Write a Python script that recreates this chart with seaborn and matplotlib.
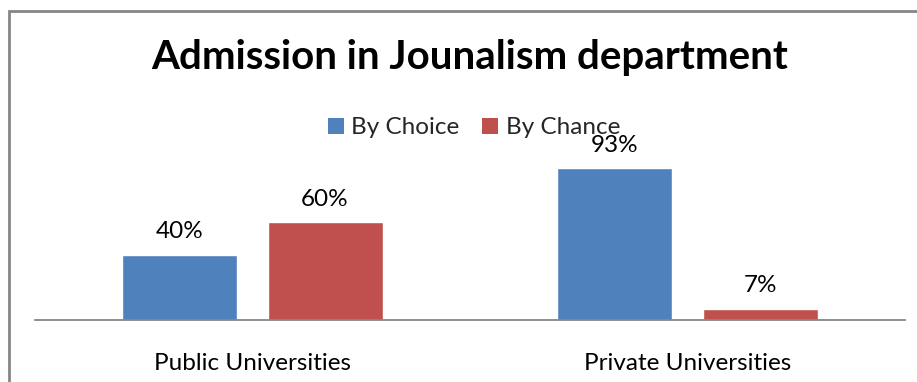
import matplotlib
matplotlib.use("Agg")
import matplotlib.pyplot as plt
import seaborn as sns
import pandas as pd
from matplotlib.patches import Rectangle, Patch

# Data
categories = ["Public Universities", "Private Universities"]
series = ["By Choice", "By Chance"]
by_choice = [40, 93]
by_chance = [60, 7]
title_text = "Admission in Jounalism department"

colors = {"By Choice": "#4F81BD", "By Chance": "#C0504D"}

df = pd.DataFrame({
    "University": categories * 2,
    "Mode": [series[0]] * len(categories) + [series[1]] * len(categories),
    "Percent": by_choice + by_chance,
})

sns.set_theme(style="white")
plt.rcParams["font.family"] = ["Lato", "DejaVu Sans"]

W, H = 917, 382
fig = plt.figure(figsize=(W / 100, H / 100), dpi=100)
ax = fig.add_axes([35 / W, 1 - 320 / H, 870 / W, 163 / H])

sns.barplot(data=df, x="University", y="Percent", hue="Mode",
            order=categories, hue_order=series, palette=colors,
            width=0.667, gap=0.207, saturation=1, ax=ax, legend=False)

ax.set_ylim(0, 100)
ax.set_xlim(-0.5, 1.5)
ax.set_xlabel("")
ax.set_ylabel("")
ax.set_yticks([])
for side in ["top", "right", "left"]:
    ax.spines[side].set_visible(False)
ax.spines["bottom"].set_color("#868686")
ax.spines["bottom"].set_linewidth(1.3)
ax.tick_params(axis="x", length=0, pad=24, labelsize=17.5, colors="black")
ax.patch.set_alpha(0)

for cont in ax.containers:
    ax.bar_label(cont, labels=[f"{v:.0f}%" for v in cont.datavalues],
                 padding=9, fontsize=17.5, color="black")

fig.text(470 / W, 1 - 57 / H, title_text, ha="center", va="center",
         fontsize=29, fontweight="bold", color="black")

handles = [Patch(facecolor=colors[s], edgecolor="none", label=s) for s in series]
fig.legend(handles=handles, loc="center", bbox_to_anchor=(474 / W, 1 - 128 / H),
           ncol=2, frameon=False, fontsize=17.5, handlelength=0.65, handleheight=0.65,
           handletextpad=0.3, columnspacing=0.95, borderpad=0)

# Chart area frame (only the left and top edges fall inside the canvas)
fig.patches.append(Rectangle((9 / W, -0.5), 2.0, 1.5 - 11 / H,
                             transform=fig.transFigure, fill=False,
                             edgecolor="#868686", linewidth=2.0, zorder=5))

fig.savefig("out.png", dpi=100)
